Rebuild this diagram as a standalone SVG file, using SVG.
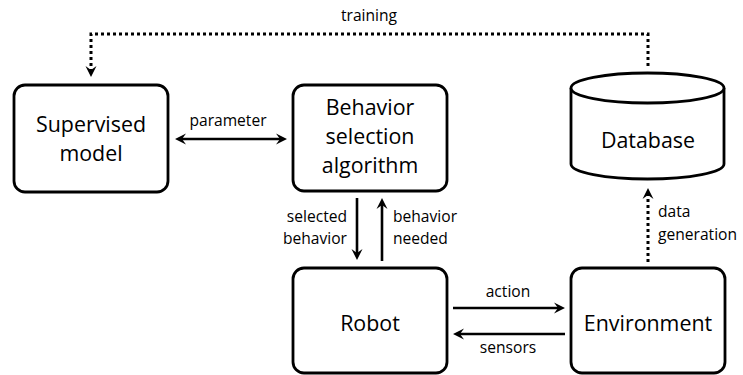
<svg xmlns="http://www.w3.org/2000/svg" width="743" height="375" viewBox="0 0 743 375">
  <style>
    .box { fill: #fff; stroke: #000; stroke-width: 2.8; }
    .big { font-family: "Open Sans", Lato, sans-serif; font-size: 21.4px; fill: #000; text-anchor: middle; }
    .lbl { font-family: "Open Sans", Lato, sans-serif; font-size: 15.6px; fill: #000; }
    .solid { fill: none; stroke: #000; stroke-width: 2.6; }
    .dots { fill: none; stroke: #000; stroke-width: 3; stroke-dasharray: 3 3; }
  </style>
  <defs>
    <marker id="head" viewBox="-12 -6 13 12" refX="-5" refY="0" markerWidth="13" markerHeight="12" markerUnits="userSpaceOnUse" orient="auto-start-reverse">
      <path d="M0,0 L-11,-5.5 L-7,0 L-11,5.5 Z" fill="#000"/>
    </marker>
  </defs>

  <g id="supervised-model">
    <rect class="box" x="14" y="85" width="154" height="107" rx="11"/>
    <text class="big" x="91" y="132">Supervised</text>
    <text class="big" x="91" y="161">model</text>
  </g>

  <g id="behavior-selection">
    <rect class="box" x="293" y="85" width="154" height="106" rx="11"/>
    <text class="big" x="370" y="115">Behavior</text>
    <text class="big" x="370" y="144">selection</text>
    <text class="big" x="370" y="173">algorithm</text>
  </g>

  <g id="database">
    <path class="box" d="M571,88 L571,164 A76.5,15 0 0 0 724,164 L724,88"/>
    <ellipse class="box" cx="647.5" cy="88" rx="76.5" ry="15"/>
    <text class="big" x="648" y="148">Database</text>
  </g>

  <g id="robot">
    <rect class="box" x="293" y="268" width="154" height="105" rx="11"/>
    <text class="big" x="370" y="331">Robot</text>
  </g>

  <g id="environment">
    <rect class="box" x="571" y="268" width="154" height="105" rx="11"/>
    <text class="big" x="648" y="331">Environment</text>
  </g>

  <g id="connectors">
    <!-- training: database back to the supervised model -->
    <path class="dots" d="M648,66 L648,34 L91,34 L91,72" marker-end="url(#head)"/>
    <text class="lbl" x="369" y="21" text-anchor="middle">training</text>

    <!-- parameter exchange -->
    <line class="solid" x1="180" y1="139" x2="282" y2="139" marker-start="url(#head)" marker-end="url(#head)"/>
    <text class="lbl" x="228" y="126" text-anchor="middle">parameter</text>

    <!-- selected behavior / behavior needed -->
    <line class="solid" x1="357" y1="198" x2="357" y2="255" marker-end="url(#head)"/>
    <text class="lbl" x="347" y="222" text-anchor="end">selected</text>
    <text class="lbl" x="347" y="244" text-anchor="end">behavior</text>
    <line class="solid" x1="382" y1="261" x2="382" y2="203" marker-end="url(#head)"/>
    <text class="lbl" x="393" y="222">behavior</text>
    <text class="lbl" x="393" y="244">needed</text>

    <!-- action / sensors -->
    <line class="solid" x1="453" y1="308" x2="560" y2="308" marker-end="url(#head)"/>
    <text class="lbl" x="508" y="297" text-anchor="middle">action</text>
    <line class="solid" x1="565" y1="334" x2="458" y2="334" marker-end="url(#head)"/>
    <text class="lbl" x="508" y="353" text-anchor="middle">sensors</text>

    <!-- data generation -->
    <path class="dots" d="M648,262 L648,193" marker-end="url(#head)"/>
    <text class="lbl" x="658" y="217">data</text>
    <text class="lbl" x="658" y="240">generation</text>
  </g>
</svg>
